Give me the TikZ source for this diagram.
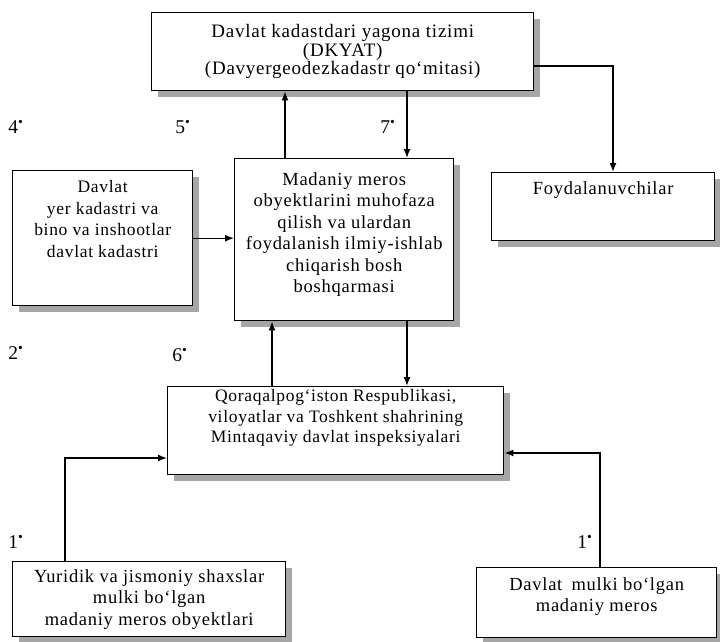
\documentclass[tikz,border=0pt]{standalone}
\usepackage{fontspec}
\setmainfont{Liberation Serif}[LetterSpace=4]
\usetikzlibrary{arrows.meta, shadows}

\begin{document}
\begin{tikzpicture}[
        x=1pt, y=-1pt,
        box/.style={draw, line width=1.4pt, fill=white, align=center, inner sep=0pt,
            anchor=north west, font=\fontsize{18.5}{21.5}\selectfont,
            drop shadow={shadow xshift=6pt, shadow yshift=-6pt, fill=black!35, opacity=1}},
        arr/.style={line width=1.4pt, -{Latex[length=9pt, width=7pt]}},
        num/.style={font=\fontsize{19.5}{20}\selectfont}
    ]
        \useasboundingbox (0,0) rectangle (720,642);

        % Boxes
        \node[box, minimum width=382pt, minimum height=78pt, font=\fontsize{19}{18.5}\selectfont] (dkyat) at (151,12)
            {Davlat kadastdari yagona tizimi\\(DKYAT)\\(Davyergeodezkadastr qo‘mitasi)};
        \node[box, minimum width=180pt, minimum height=135pt, font=\fontsize{17.5}{21.5}\selectfont] (yer) at (12,170)
            {Davlat\\yer kadastri va\\bino va inshootlar\\davlat kadastri\\[17pt]\mbox{}};
        \node[box, minimum width=219pt, minimum height=162pt] (bosh) at (234,158)
            {Madaniy meros\\obyektlarini muhofaza\\qilish va ulardan\\foydalanish ilmiy-ishlab\\chiqarish bosh\\boshqarmasi\\[-7pt]\mbox{}};
        \node[box, minimum width=223pt, minimum height=68pt] (foyda) at (491,172)
            {Foydalanuvchilar\\[15pt]\mbox{}};
        \node[box, minimum width=336pt, minimum height=88pt, font=\fontsize{17.5}{20.5}\selectfont] (inspek) at (167,386)
            {Qoraqalpog‘iston Respublikasi,\\viloyatlar va Toshkent shahrining\\Mintaqaviy davlat inspeksiyalari\\[9pt]\mbox{}};
        \node[box, minimum width=273pt, minimum height=75pt] (yurid) at (12,561)
            {Yuridik va jismoniy shaxslar\\mulki bo‘lgan\\madaniy meros obyektlari};
        \node[box, minimum width=240pt, minimum height=70pt] (davmulk) at (476,567)
            {Davlat\enspace mulki bo‘lgan\\madaniy meros\\[-5pt]\mbox{}};

        % Columns and rows of the connectors
        \coordinate (c5) at (285,0);
        \coordinate (c7) at (407,0);
        \coordinate (c6) at (272,0);
        \coordinate (cf) at (613,0);
        \coordinate (c1) at (65,0);
        \coordinate (c2) at (600,0);
        \coordinate (rf) at (0,66);
        \coordinate (r1) at (0,458);
        \coordinate (r2) at (0,453);

        % Connectors
        \draw[arr] (c5 |- bosh.north) -- (c5 |- dkyat.south);
        \draw[arr] (c7 |- dkyat.south) -- (c7 |- bosh.north);
        \draw[arr] (dkyat.east |- rf) -- (cf |- rf) -- (cf |- foyda.north);
        \draw[arr] (yer.east) -- (bosh.west |- yer.east);
        \draw[arr] (c6 |- inspek.north) -- (c6 |- bosh.south);
        \draw[arr] (c7 |- bosh.south) -- (c7 |- inspek.north);
        \draw[arr] (c1 |- yurid.north) -- (c1 |- r1) -- (inspek.west |- r1);
        \draw[arr] (c2 |- davmulk.north) -- (c2 |- r2) -- (inspek.east |- r2);

        % Numbers
        \node[num] (n4) at (16,127) {4\textsuperscript{•}};
        \node[num] (n5) at (183,127) {5\textsuperscript{•}};
        \node[num] (n7) at (388,127) {7\textsuperscript{•}};
        \node[num] (n2) at (16,353) {2\textsuperscript{•}};
        \node[num] (n6) at (180,355) {6\textsuperscript{•}};
        \node[num] (n1a) at (16,542) {1\textsuperscript{•}};
        \node[num] (n1b) at (585,542) {1\textsuperscript{•}};
    \end{tikzpicture}
\end{document}
